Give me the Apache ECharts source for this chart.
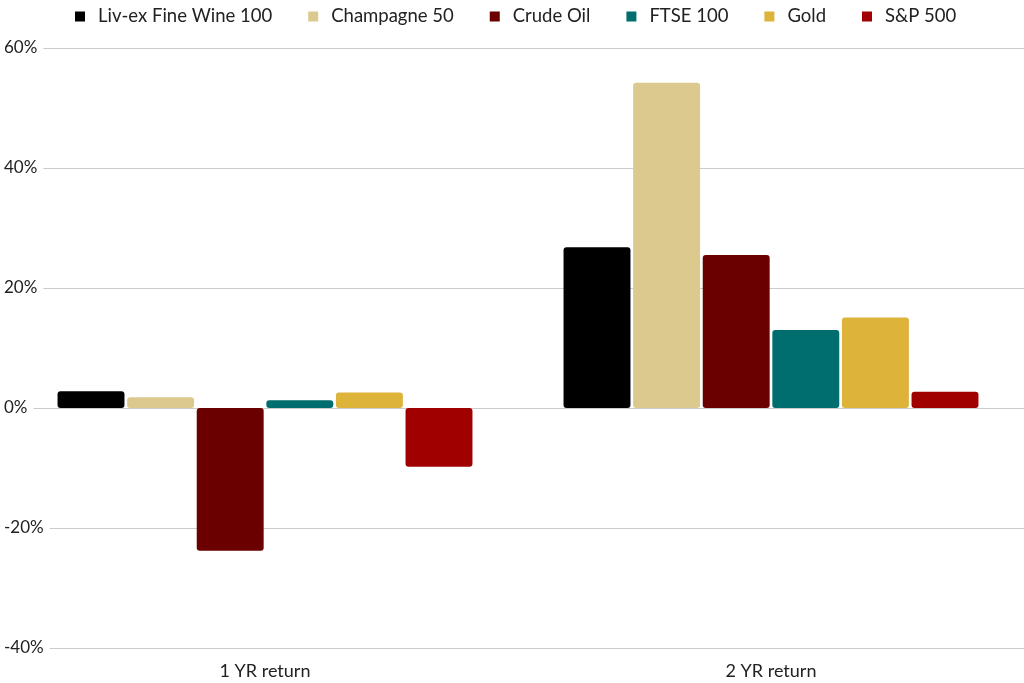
<!DOCTYPE html>
<html lang="en">
<head>
<meta charset="UTF-8">
<script src="https://cdn.jsdelivr.net/npm/echarts@6/dist/echarts.min.js"></script>
<title>Returns</title>
<style>html,body{margin:0;padding:0;background:#fff;}</style>
</head>
<body>
<div id="main" style="width:1024px;height:683px;"></div>
<script type="text/javascript">
var categories = ['1 YR return', '2 YR return'];
var seriesNames = ['Liv-ex Fine Wine 100', 'Champagne 50', 'Crude Oil', 'FTSE 100', 'Gold', 'S&P 500'];
var seriesColors = ['#000000', '#dcc98d', '#6b0000', '#006e6e', '#ddb33a', '#a00000'];
var values = [
    [2.8, 26.8],
    [1.8, 54.2],
    [-23.8, 25.5],
    [1.3, 13.0],
    [2.6, 15.1],
    [-9.8, 2.7]
];
var yTicks = [-40, -20, 0, 20, 40, 60];

var myChart = echarts.init(document.getElementById('main'));
var font = 'Lato';

var series = seriesNames.map(function (name, i) {
    return {
        name: name,
        type: 'bar',
        data: values[i],
        barGap: '4%',
        barCategoryGap: '18%',
        itemStyle: {
            color: seriesColors[i],
            borderRadius: 3
        }
    };
});

var option = {
    backgroundColor: '#fff',
    textStyle: { fontFamily: font },
    legend: {
        top: 2,
        left: 70,
        itemWidth: 10,
        itemHeight: 10,
        itemGap: 36,
        icon: 'rect',
        textStyle: { fontSize: 18.5, color: '#222', fontFamily: font, padding: [0, 0, 0, 8] }
    },
    grid: { left: 12, width: 1060, top: 48, bottom: 35 },
    xAxis: {
        type: 'category',
        data: categories,
        axisTick: { show: false },
        axisLine: { show: false },
        axisLabel: { fontSize: 18, color: '#222', margin: 14 }
    },
    yAxis: {
        type: 'value',
        min: yTicks[0],
        max: yTicks[yTicks.length - 1],
        interval: 20,
        axisLine: { show: false },
        axisTick: { show: false },
        splitLine: { lineStyle: { color: '#cccccc' } },
        axisLabel: {
            inside: true,
            margin: -8,
            fontSize: 17,
            color: '#222',
            backgroundColor: '#fff',
            padding: [0, 6, 0, 0],
            formatter: '{value}%'
        }
    },
    series: series
};

myChart.setOption(option);
</script>
</body>
</html>
